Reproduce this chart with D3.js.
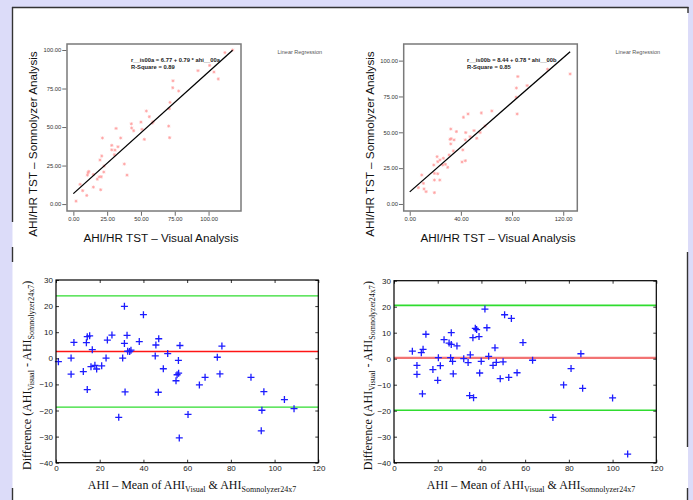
<!DOCTYPE html>
<html>
<head>
<meta charset="utf-8">
<script src="https://d3js.org/d3.v7.min.js"></script>
<style>
  body { margin: 0; padding: 0; background: #dcdcf9; }
  svg { display: block; }
</style>
</head>
<body>
<div id="chart"></div>
<script>
// ---- data ----

// top left: AHI/HR TST, visual vs Somnolyzer (night a)
var visualA = [2.0, 5.0, 6.9, 9.9, 10.4, 10.9, 11.4, 14.8, 14.8, 17.7, 19.2, 20.2, 20.7, 19.7, 21.0, 21.5,
  22.5, 22.7, 28.4, 28.4, 30.3, 30.8, 33.0, 31.6, 35.0, 37.7, 39.7, 42.9, 43.1, 44.6, 50.0, 50.8, 52.5,
  54.0, 56.2, 58.4, 59.0, 70.5, 71.2, 71.0, 71.5, 73.5, 73.7, 77.9, 92.2, 100.8, 104.0, 107.2, 112.1, 117.8];
var somnoA = [1.9, 12.8, 8.7, 5.6, 18.8, 20.3, 21.2, 11.0, 19.2, 16.2, 17.7, 9.3, 17.7, 28.6, 31.2, 42.9,
  20.8, 24.7, 38.1, 35.2, 32.0, 35.0, 37.2, 49.1, 42.9, 26.0, 18.8, 52.1, 49.4, 47.6, 53.2, 48.5, 42.0,
  60.4, 56.7, 52.6, 53.5, 50.6, 43.1, 61.9, 66.0, 75.5, 80.0, 73.4, 86.6, 90.0, 85.7, 81.2, 98.3, 100.0];
var regA = {label: "r__is00a = 6.77 + 0.79 * ahi__00a", rsq: "R-Square = 0.89", a: 6.77, b: 0.79};

// top right: night b
var visualB = [6.8, 9.4, 10.7, 11.2, 12.8, 18.8, 19.3, 19.3, 19.3, 21.4, 21.9, 21.9, 23.5, 23.7, 26.3, 25.8,
  27.9, 29.7, 30.8, 32.1, 31.5, 32.4, 32.1, 34.7, 34.1, 36.5, 40.9, 43.5, 42.0, 41.5, 43.5, 43.8, 45.6,
  47.2, 50.3, 52.4, 55.0, 56.0, 58.9, 64.2, 83.2, 83.4, 84.5, 84.0, 91.8, 107.7, 125.4];
var somnoB = [11.4, 20.2, 14.4, 10.5, 8.6, 27.2, 21.4, 16.7, 7.9, 33.0, 29.5, 21.1, 16.7, 30.7, 31.9, 27.2,
  27.7, 25.6, 34.2, 52.3, 45.1, 45.5, 41.9, 44.7, 37.0, 50.5, 29.3, 30.2, 60.5, 37.7, 44.7, 49.8, 62.8,
  47.0, 51.2, 45.8, 49.8, 63.5, 54.4, 64.9, 74.5, 80.9, 88.9, 62.8, 82.6, 94.0, 90.7];
var regB = {label: "r__is00b = 8.44 + 0.78 * ahi__00b", rsq: "R-Square = 0.85", a: 8.44, b: 0.78};

// bottom left: Bland-Altman (mean, difference)
var meanA = [1.1, 6.9, 6.9, 8.2, 12.5, 13.9, 14.3, 15.4, 14.3, 16.0, 16.6, 17.8, 18.6, 20.9, 22.9, 23.5,
  25.6, 28.7, 30.5, 31.3, 31.3, 31.6, 32.5, 32.8, 34.3, 33.7, 38.1, 40.0, 45.4, 45.7, 47.0, 46.8, 49.1,
  51.1, 54.9, 55.4, 56.1, 56.0, 56.7, 56.4, 60.4, 65.6, 68.2, 73.8, 75.0, 75.9, 89.2, 94.2, 93.9, 95.1,
  104.5, 108.9];
var diffA = [-1.3, 0.1, -6.1, 6.1, -5.1, 6.0, 8.3, 8.6, -12.0, -3.2, 3.3, -2.7, -4.1, -2.9, 0.1, 7.0,
  8.9, -22.6, 0.1, 19.9, 5.7, -12.9, 8.8, 2.7, 3.1, 2.6, 6.4, 16.7, 0.9, 5.1, 7.5, -13.0, -4.0,
  1.8, -8.6, -6.3, -5.7, -0.8, 4.9, -30.5, -21.5, -10.2, -7.3, 0.4, -6.0, 4.7, -7.3, -19.9, -27.8, -12.8,
  -15.8, -19.3];
var limitsA = {mean: 2.6, upper: 23.9, lower: -18.7};

// bottom right
var meanB = [8.4, 10.5, 10.5, 12.5, 13.3, 13.0, 14.6, 17.8, 20.0, 20.3, 21.2, 22.9, 25.2, 26.2, 26.2, 25.9,
  26.8, 27.1, 28.8, 31.9, 33.9, 34.9, 34.6, 36.4, 36.1, 37.2, 37.8, 38.9, 39.2, 39.9, 41.6, 42.5, 43.3,
  45.3, 46.2, 46.8, 48.6, 49.9, 50.6, 52.5, 53.7, 56.3, 59.0, 63.4, 72.7, 77.6, 81.0, 85.5, 86.3, 100.0,
  106.9];
var diffB = [2.9, -2.6, -6.0, 2.3, 3.6, -13.5, 9.4, -4.2, -8.3, 0.4, -2.7, 7.3, 6.0, 10.0, 5.5, 0.4,
  -1.0, -5.8, 4.9, 0.0, -1.5, 1.5, -14.2, -15.0, 8.1, 11.7, 11.2, 8.5, -5.5, -1.0, 19.1, 11.9, 0.9,
  -2.6, 4.2, -1.4, -7.7, -1.2, 16.9, -7.2, 15.5, -5.4, 6.2, -0.6, -22.6, -10.1, -3.8, 1.9, -11.4, -15.1,
  -36.7];
var limitsB = {mean: 0.3, upper: 20.5, lower: -19.8};

var scatterTicksA = [0, 25, 50, 75, 100];
var scatterTicksB = [0, 40, 80, 120];
var baYTicks = [-40, -30, -20, -10, 0, 10, 20, 30];
var baXTicks = [0, 20, 40, 60, 80, 100, 120];

// ---- page ----
var W = 693, H = 500;
var svg = d3.select("#chart").append("svg")
  .attr("width", W).attr("height", H);

svg.append("rect").attr("width", W).attr("height", H).attr("fill", "#dcdcf9");
svg.append("rect").attr("x", 12.5).attr("y", 7.5).attr("width", 675.5).attr("height", 493).attr("fill", "#fff");

// border fragments of the pasted pictures
var edges = [[12, 7.5, 688.5, 7.5], [12.5, 7, 12.5, 222], [12.5, 247, 12.5, 262], [12.5, 488, 12.5, 500],
  [688, 7, 688, 13], [687.5, 252, 687.5, 447], [687.5, 488, 687.5, 500]];
svg.selectAll(".edge").data(edges).enter().append("line")
  .attr("x1", d => d[0]).attr("y1", d => d[1]).attr("x2", d => d[2]).attr("y2", d => d[3])
  .attr("stroke", "#333").attr("stroke-width", 1.4);

var sans = "'Liberation Sans', Arial, sans-serif";
var serif = "'Liberation Serif', 'Times New Roman', serif";

// ---- SPSS style scatter with regression line ----
function scatter(o) {
  var x = d3.scaleLinear().domain(o.xDomain).range([o.left, o.right]);
  var y = d3.scaleLinear().domain(o.yDomain).range([o.bottom, o.top]);
  var g = svg.append("g");

  g.append("rect").attr("x", o.left).attr("y", o.top)
    .attr("width", o.right - o.left).attr("height", o.bottom - o.top)
    .attr("fill", "none").attr("stroke", "#7a7a7a").attr("stroke-width", 1.5);

  var ya = g.append("g").attr("transform", "translate(" + (o.left - 0.75) + ",0)")
    .call(d3.axisLeft(y).tickValues(o.yTicks).tickFormat(d3.format(".2f")).tickSize(4).tickPadding(1));
  var xa = g.append("g").attr("transform", "translate(0," + (o.bottom + 0.75) + ")")
    .call(d3.axisBottom(x).tickValues(o.xTicks).tickFormat(d3.format(".2f")).tickSize(4).tickPadding(1));
  [ya, xa].forEach(function(a) {
    a.select(".domain").remove();
    a.selectAll("line").attr("stroke", "#444").attr("stroke-width", 0.8);
    a.selectAll("text").attr("font-family", sans).attr("font-size", 5.8).attr("fill", "#333");
  });

  // points
  var pts = o.xs.map(function(v, i) { return [v, o.ys[i]]; });
  g.selectAll(".pt").data(pts).enter().append("path")
    .attr("transform", d => "translate(" + x(d[0]) + "," + y(d[1]) + ")")
    .attr("d", "M-1.6,0H1.6M0,-1.6V1.6M-1.2,-1.2L1.2,1.2M-1.2,1.2L1.2,-1.2")
    .attr("stroke", "#ff9f9f").attr("stroke-width", 0.7).attr("fill", "none");

  // fit line
  var x1 = d3.max(o.xs);
  g.append("line")
    .attr("x1", x(0)).attr("y1", y(o.reg.a))
    .attr("x2", x(x1)).attr("y2", y(o.reg.a + o.reg.b * x1))
    .attr("stroke", "#000").attr("stroke-width", 1.3);

  g.append("text").attr("x", o.noteX).attr("y", 62)
    .attr("font-family", sans).attr("font-size", 5.8).attr("font-weight", "bold").attr("fill", "#222")
    .text(o.reg.label);
  g.append("text").attr("x", o.noteX).attr("y", 68.5)
    .attr("font-family", sans).attr("font-size", 5.8).attr("font-weight", "bold").attr("fill", "#222")
    .text(o.reg.rsq);

  g.append("text").attr("x", o.legendX).attr("y", 53.5)
    .attr("font-family", sans).attr("font-size", 5.5).attr("fill", "#555")
    .text("Linear Regression");

  g.append("text")
    .attr("transform", "translate(" + o.yTitleX + ",144) rotate(-90)")
    .attr("text-anchor", "middle")
    .attr("font-family", sans).attr("font-size", 11.7).attr("fill", "#111")
    .text("AHI/HR TST – Somnolyzer Analysis");
  g.append("text")
    .attr("x", o.xTitleX).attr("y", 242)
    .attr("text-anchor", "middle")
    .attr("font-family", sans).attr("font-size", 11.7).attr("fill", "#111")
    .text("AHI/HR TST – Visual Analysis");
}

scatter({xs: visualA, ys: somnoA, reg: regA, xDomain: [-4.7, 124], yDomain: [-4.5, 103.9],
  left: 67, right: 241, top: 44, bottom: 211, xTicks: scatterTicksA, yTicks: scatterTicksA,
  noteX: 131, legendX: 277.5, yTitleX: 36.5, xTitleX: 161});
scatter({xs: visualB, ys: somnoB, reg: regB, xDomain: [-4.7, 131], yDomain: [-4.9, 111.6],
  left: 403.7, right: 577.3, top: 44, bottom: 211, xTicks: scatterTicksB, yTicks: scatterTicksA,
  noteX: 467, legendX: 615.5, yTitleX: 373.7, xTitleX: 498});

// ---- MATLAB style Bland-Altman plots ----
function blandAltman(o) {
  var x = d3.scaleLinear().domain([0, 120]).range([o.left, o.right]);
  var y = d3.scaleLinear().domain([-40, 30]).range([o.bottom, o.top]);
  var g = svg.append("g");

  // limits of agreement and mean difference
  [[o.lim.upper, "#2fdc2f", o.greenW], [o.lim.lower, "#2fdc2f", o.greenW], [o.lim.mean, o.meanColor, o.meanW]]
    .forEach(function(l) {
      g.append("line").attr("x1", o.left).attr("x2", o.right)
        .attr("y1", y(l[0])).attr("y2", y(l[0]))
        .attr("stroke", l[1]).attr("stroke-width", l[2]);
    });

  var pts = o.xs.map(function(v, i) { return [v, o.ys[i]]; });
  g.selectAll(".pt").data(pts).enter().append("path")
    .attr("transform", d => "translate(" + x(d[0]) + "," + y(d[1]) + ")")
    .attr("d", "M-3.5,0H3.5M0,-3.5V3.5")
    .attr("stroke", "#1c1cff").attr("stroke-width", 1.3).attr("fill", "none");

  var left = g.append("g").attr("transform", "translate(" + o.left + ",0)")
    .call(d3.axisLeft(y).tickValues(baYTicks).tickSize(-3).tickPadding(3));
  var bottom = g.append("g").attr("transform", "translate(0," + o.bottom + ")")
    .call(d3.axisBottom(x).tickValues(baXTicks).tickSize(-3).tickPadding(3));
  var right = g.append("g").attr("transform", "translate(" + o.right + ",0)")
    .call(d3.axisRight(y).tickValues(baYTicks).tickSize(-3).tickFormat(""));
  var top = g.append("g").attr("transform", "translate(0," + o.top + ")")
    .call(d3.axisTop(x).tickValues(baXTicks).tickSize(-3).tickFormat(""));
  [left, bottom, right, top].forEach(function(a) {
    a.select(".domain").remove();
    a.selectAll("line").attr("stroke", "#000").attr("stroke-width", 0.8);
    a.selectAll("text").attr("font-family", sans).attr("font-size", 8).attr("fill", "#222");
  });

  g.append("rect").attr("x", o.left).attr("y", o.top)
    .attr("width", o.right - o.left).attr("height", o.bottom - o.top)
    .attr("fill", "none").attr("stroke", "#000").attr("stroke-width", 1.2);

  var yt = g.append("text")
    .attr("transform", "translate(" + o.yTitleX + "," + ((o.top + o.bottom) / 2 + 4) + ") rotate(-90)")
    .attr("text-anchor", "middle")
    .attr("font-family", serif).attr("font-size", 12).attr("fill", "#111");
  yt.append("tspan").text("Difference (AHI");
  yt.append("tspan").attr("font-size", 8).attr("dy", 3).text("Visual");
  yt.append("tspan").attr("dy", -3).text(" - AHI");
  yt.append("tspan").attr("font-size", 8).attr("dy", 3).text("Somnolyzer24x7");
  yt.append("tspan").attr("dy", -3).text(")");

  var xt = g.append("text")
    .attr("x", o.xTitleX).attr("y", 489)
    .attr("text-anchor", "middle")
    .attr("font-family", serif).attr("font-size", 12).attr("fill", "#111");
  xt.append("tspan").text("AHI – Mean of AHI");
  xt.append("tspan").attr("font-size", 8).attr("dy", 3).text("Visual");
  xt.append("tspan").attr("dy", -3).text(" & AHI");
  xt.append("tspan").attr("font-size", 8).attr("dy", 3).text("Somnolyzer24x7");
}

blandAltman({xs: meanA, ys: diffA, lim: limitsA, left: 56, right: 318.3, top: 280, bottom: 462.7,
  meanColor: "#ff1515", meanW: 1.4, greenW: 1.3, yTitleX: 30.5, xTitleX: 192});
blandAltman({xs: meanB, ys: diffB, lim: limitsB, left: 394, right: 656.3, top: 280.7, bottom: 462.7,
  meanColor: "#f27373", meanW: 2.4, greenW: 1.6, yTitleX: 371.5, xTitleX: 531});
</script>
</body>
</html>
